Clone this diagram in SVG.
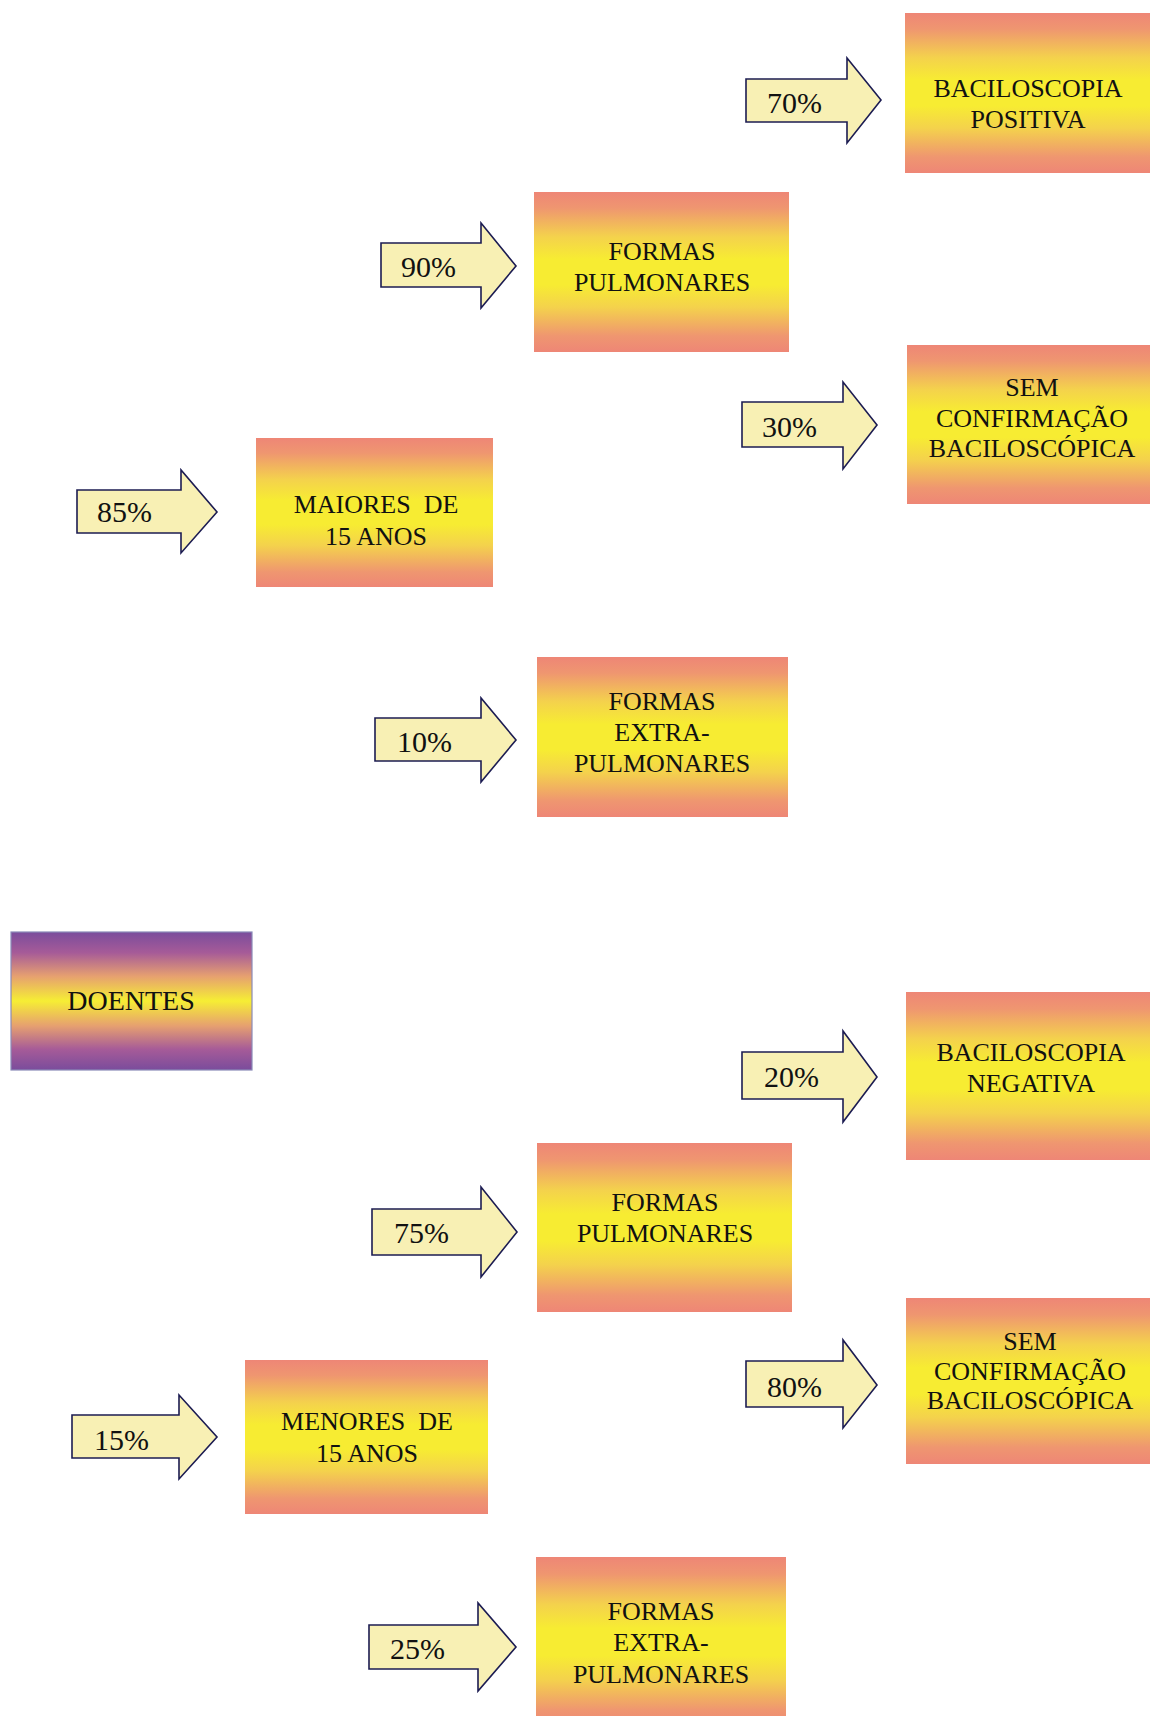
<svg xmlns="http://www.w3.org/2000/svg" width="1150" height="1716" viewBox="0 0 1150 1716">
  <defs>
    <linearGradient id="warm" x1="0" y1="0" x2="0" y2="1">
      <stop offset="0" stop-color="#ee8676"/>
      <stop offset="0.1" stop-color="#ef9670"/>
      <stop offset="0.28" stop-color="#f4d24c"/>
      <stop offset="0.42" stop-color="#f7ec32"/>
      <stop offset="0.58" stop-color="#f7ec32"/>
      <stop offset="0.72" stop-color="#f4d24c"/>
      <stop offset="0.9" stop-color="#ef9670"/>
      <stop offset="1" stop-color="#ee8676"/>
    </linearGradient>
    <linearGradient id="violet" x1="0" y1="0" x2="0" y2="1">
      <stop offset="0" stop-color="#7a4c9c"/>
      <stop offset="0.15" stop-color="#a65b98"/>
      <stop offset="0.32" stop-color="#e6a070"/>
      <stop offset="0.5" stop-color="#f6ee34"/>
      <stop offset="0.68" stop-color="#e6a070"/>
      <stop offset="0.85" stop-color="#a65b98"/>
      <stop offset="1" stop-color="#7a4c9c"/>
    </linearGradient>
  </defs>
  <style>
    .box { fill: url(#warm); }
    .root { fill: url(#violet); stroke: #8a8ab8; stroke-width: 1.2; }
    .arrow { fill: #f8f0b4; stroke: #1c1c52; stroke-width: 1.6; stroke-linejoin: miter; }
    .lbl { font-family: "Liberation Serif", "Times New Roman", serif; font-size: 26px; fill: #111; text-anchor: middle; white-space: pre; }
    .pct { font-family: "Liberation Serif", "Times New Roman", serif; font-size: 30px; fill: #111; }
  </style>

  <rect width="1150" height="1716" fill="#ffffff"/>

  <!-- connectors: block arrows carrying the percentages -->
  <g id="connectors">
    <g id="a85"><path class="arrow" d="M77,490 H181 V470 L217,512 L181,553 V533 H77 Z"/><text class="pct" x="97" y="522">85%</text></g>
    <g id="a90"><path class="arrow" d="M381,243 H481 V223 L516,266 L481,308 V287 H381 Z"/><text class="pct" x="401" y="277">90%</text></g>
    <g id="a10"><path class="arrow" d="M375,718 H481 V698 L516,740 L481,782 V761 H375 Z"/><text class="pct" x="397" y="752">10%</text></g>
    <g id="a70"><path class="arrow" d="M746,79 H847 V58 L881,100 L847,143 V122 H746 Z"/><text class="pct" x="767" y="113">70%</text></g>
    <g id="a30"><path class="arrow" d="M742,402 H843 V382 L877,425 L843,469 V447 H742 Z"/><text class="pct" x="762" y="437">30%</text></g>
    <g id="a15"><path class="arrow" d="M72,1415 H179 V1395 L217,1437 L179,1479 V1458 H72 Z"/><text class="pct" x="94" y="1450">15%</text></g>
    <g id="a75"><path class="arrow" d="M372,1209 H481 V1187 L517,1232 L481,1277 V1255 H372 Z"/><text class="pct" x="394" y="1243">75%</text></g>
    <g id="a25"><path class="arrow" d="M369,1625 H478 V1603 L516,1647 L478,1691 V1669 H369 Z"/><text class="pct" x="390" y="1659">25%</text></g>
    <g id="a20"><path class="arrow" d="M742,1052 H843 V1031 L877,1077 L843,1122 V1099 H742 Z"/><text class="pct" x="764" y="1087">20%</text></g>
    <g id="a80"><path class="arrow" d="M746,1361 H843 V1340 L877,1385 L843,1428 V1407 H746 Z"/><text class="pct" x="767" y="1397">80%</text></g>
  </g>

  <!-- root node -->
  <g id="doentes">
    <rect class="root" x="11" y="932" width="241" height="138"/>
    <text class="lbl" x="131" y="1010" style="font-size:28px">DOENTES</text>
  </g>

  <!-- upper branch: over 15 years -->
  <g id="maiores">
    <rect class="box" x="256" y="438" width="237" height="149"/>
    <text class="lbl" x="376" y="513">MAIORES  DE</text>
    <text class="lbl" x="376" y="545">15 ANOS</text>
  </g>
  <g id="pulm-maiores">
    <rect class="box" x="534" y="192" width="255" height="160"/>
    <text class="lbl" x="662" y="260">FORMAS</text>
    <text class="lbl" x="662" y="291">PULMONARES</text>
  </g>
  <g id="extra-maiores">
    <rect class="box" x="537" y="657" width="251" height="160"/>
    <text class="lbl" x="662" y="710">FORMAS</text>
    <text class="lbl" x="662" y="741">EXTRA-</text>
    <text class="lbl" x="662" y="772">PULMONARES</text>
  </g>
  <g id="bacilo-positiva">
    <rect class="box" x="905" y="13" width="250" height="160"/>
    <text class="lbl" x="1028" y="97">BACILOSCOPIA</text>
    <text class="lbl" x="1028" y="128">POSITIVA</text>
  </g>
  <g id="sem-conf-maiores">
    <rect class="box" x="907" y="345" width="248" height="159"/>
    <text class="lbl" x="1032" y="396">SEM</text>
    <text class="lbl" x="1032" y="427">CONFIRMAÇÃO</text>
    <text class="lbl" x="1032" y="457">BACILOSCÓPICA</text>
  </g>

  <!-- lower branch: under 15 years -->
  <g id="menores">
    <rect class="box" x="245" y="1360" width="243" height="154"/>
    <text class="lbl" x="367" y="1430">MENORES  DE</text>
    <text class="lbl" x="367" y="1462">15 ANOS</text>
  </g>
  <g id="pulm-menores">
    <rect class="box" x="537" y="1143" width="255" height="169"/>
    <text class="lbl" x="665" y="1211">FORMAS</text>
    <text class="lbl" x="665" y="1242">PULMONARES</text>
  </g>
  <g id="extra-menores">
    <rect class="box" x="536" y="1557" width="250" height="170"/>
    <text class="lbl" x="661" y="1620">FORMAS</text>
    <text class="lbl" x="661" y="1651">EXTRA-</text>
    <text class="lbl" x="661" y="1683">PULMONARES</text>
  </g>
  <g id="bacilo-negativa">
    <rect class="box" x="906" y="992" width="249" height="168"/>
    <text class="lbl" x="1031" y="1061">BACILOSCOPIA</text>
    <text class="lbl" x="1031" y="1092">NEGATIVA</text>
  </g>
  <g id="sem-conf-menores">
    <rect class="box" x="906" y="1298" width="249" height="166"/>
    <text class="lbl" x="1030" y="1350">SEM</text>
    <text class="lbl" x="1030" y="1380">CONFIRMAÇÃO</text>
    <text class="lbl" x="1030" y="1409">BACILOSCÓPICA</text>
  </g>
</svg>
